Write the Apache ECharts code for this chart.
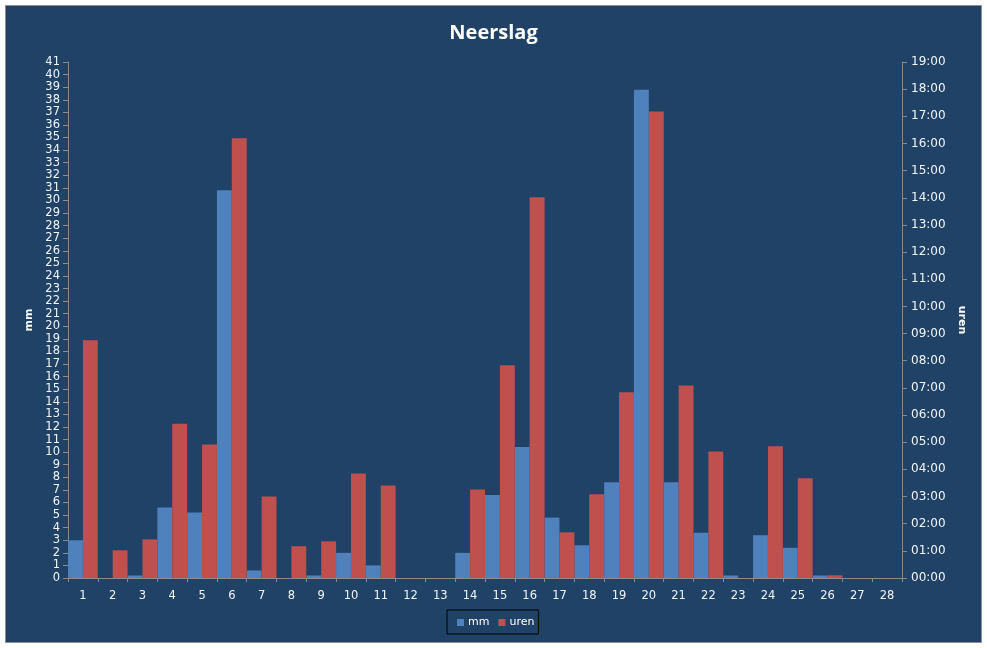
<!DOCTYPE html>
<html>
<head>
<meta charset="utf-8">
<script src="https://cdn.jsdelivr.net/npm/echarts@6/dist/echarts.min.js"></script>
<style>
  html, body { margin: 0; padding: 0; background: #ffffff; }
  #chart { width: 987px; height: 648px; }
</style>
</head>
<body>
<div id="chart"></div>
<script>
const days = ['1','2','3','4','5','6','7','8','9','10','11','12','13','14','15','16','17','18','19','20','21','22','23','24','25','26','27','28'];
const mm = [3.0, 0, 0.2, 5.6, 5.2, 30.8, 0.6, 0, 0.2, 2.0, 1.0, 0, 0, 2.0, 6.6, 10.4, 4.8, 2.6, 7.6, 38.8, 7.6, 3.6, 0.2, 3.4, 2.4, 0.2, 0, 0];
// hours of rain (decimal hours)
const uren = [8.75, 1.02, 1.42, 5.68, 4.92, 16.19, 3.0, 1.17, 1.35, 3.85, 3.41, 0, 0, 3.26, 7.83, 14.02, 1.68, 3.08, 6.84, 17.18, 7.09, 4.66, 0, 4.85, 3.67, 0.1, 0, 0];
const mmTicks = { min: 0, max: 41, interval: 1 };
const urenTicks = { min: 0, max: 19, interval: 1 };

const labelFont = { color: '#f2f5fa', fontSize: 11.5, fontFamily: 'DejaVu Sans' };
const axisGray = '#8a8a8a';

const chart = echarts.init(document.getElementById('chart'), null, { renderer: 'canvas' });
chart.setOption({
  backgroundColor: '#ffffff',
  animation: false,
  graphic: [{
    type: 'rect',
    z: -10,
    shape: { x: 5.5, y: 5.5, width: 976, height: 637 },
    style: { fill: '#1F4266', stroke: '#8c8c8c', lineWidth: 1 }
  }],
  title: {
    text: 'Neerslag',
    left: 'center',
    top: 18,
    textStyle: { color: '#ffffff', fontSize: 20, fontWeight: 'bold', fontFamily: 'Open Sans' }
  },
  legend: {
    left: 447,
    top: 610,
    itemWidth: 7,
    itemHeight: 7,
    itemGap: 9,
    padding: [7, 4, 6, 10],
    borderColor: '#000000',
    borderWidth: 1,
    icon: 'rect',
    textStyle: { color: '#ffffff', fontSize: 11, fontFamily: 'DejaVu Sans', padding: [0, 0, 0, -1] },
    data: ['mm', 'uren']
  },
  grid: { left: 68, right: 85, top: 62, bottom: 70, containLabel: false },
  xAxis: {
    type: 'category',
    data: days,
    boundaryGap: true,
    axisLine: { lineStyle: { color: axisGray } },
    axisTick: { show: true, length: 4, alignWithLabel: false, lineStyle: { color: axisGray } },
    axisLabel: Object.assign({ margin: 12, interval: 0 }, labelFont),
    splitLine: { show: false }
  },
  yAxis: [{
    type: 'value',
    position: 'left',
    min: mmTicks.min, max: mmTicks.max, interval: mmTicks.interval,
    name: 'mm',
    nameLocation: 'middle',
    nameGap: 32,
    nameTextStyle: { color: '#ffffff', fontSize: 11, fontWeight: 'bold', fontFamily: 'DejaVu Sans' },
    axisLine: { show: true, lineStyle: { color: axisGray } },
    axisTick: { show: true, length: 5, lineStyle: { color: axisGray } },
    axisLabel: Object.assign({ margin: 8 }, labelFont),
    splitLine: { show: false }
  }, {
    type: 'value',
    position: 'right',
    min: urenTicks.min, max: urenTicks.max, interval: urenTicks.interval,
    name: 'uren',
    nameLocation: 'middle',
    nameGap: 46,
    nameRotate: -90,
    nameTextStyle: { color: '#ffffff', fontSize: 11, fontWeight: 'bold', fontFamily: 'DejaVu Sans' },
    axisLine: { show: true, lineStyle: { color: axisGray } },
    axisTick: { show: true, length: 5, lineStyle: { color: axisGray } },
    axisLabel: Object.assign({
      margin: 9,
      formatter: v => (v < 10 ? '0' + v : '' + v) + ':00'
    }, labelFont, { fontSize: 12 }),
    splitLine: { show: false }
  }],
  series: [{
    name: 'mm',
    type: 'bar',
    yAxisIndex: 0,
    data: mm,
    barGap: '0%',
    barCategoryGap: '0%',
    itemStyle: { color: '#4F81BD' }
  }, {
    name: 'uren',
    type: 'bar',
    yAxisIndex: 1,
    data: uren,
    barGap: '0%',
    barCategoryGap: '0%',
    itemStyle: { color: '#C0504D' }
  }]
});
</script>
</body>
</html>
